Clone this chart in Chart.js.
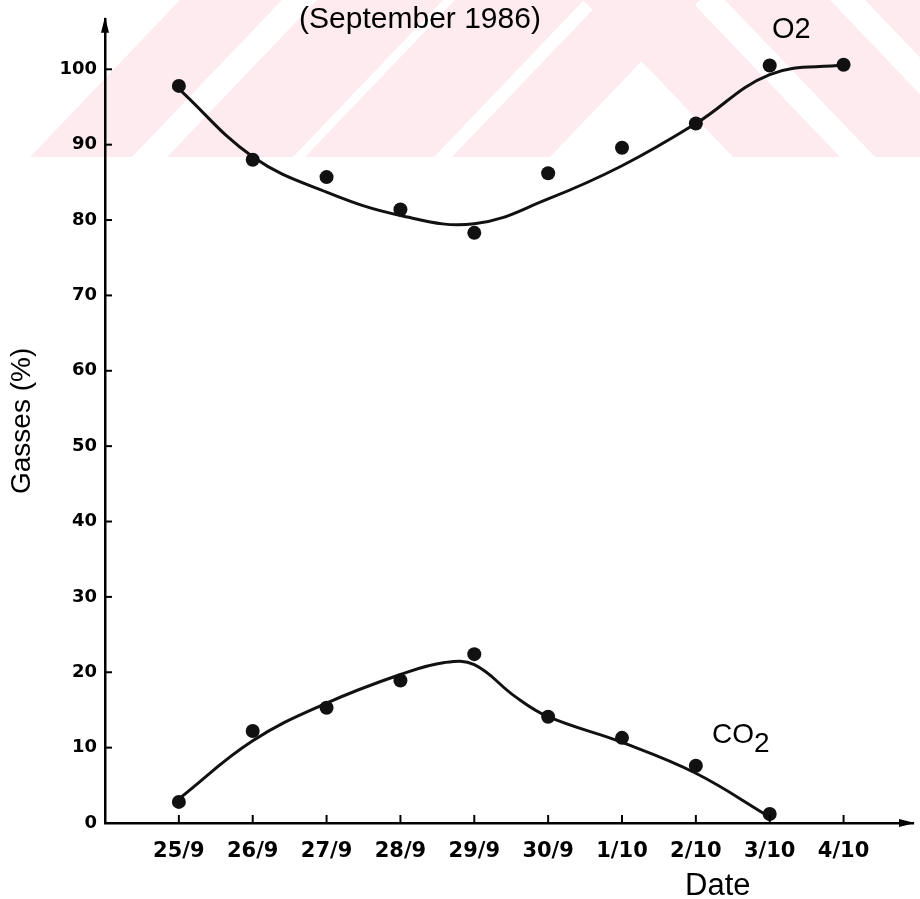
<!DOCTYPE html>
<html>
<head>
<meta charset="utf-8">
<script src="https://cdn.jsdelivr.net/npm/chart.js@4/dist/chart.umd.min.js"></script>
<style>
    html, body { margin: 0; padding: 0; background: #fff; }
    #gasChart { display: block; }
</style>
</head>
<body>
<canvas id="gasChart" width="920" height="899"></canvas>
<script>
const dates = ["25/9","26/9","27/9","28/9","29/9","30/9","1/10","2/10","3/10","4/10"];

// measured values, one per day
const o2Points = [97.8, 88.0, 85.7, 81.4, 78.3, 86.2, 89.6, 92.8, 100.5, 100.6];
const co2Points = [2.8, 12.2, 15.3, 18.9, 22.4, 14.1, 11.3, 7.6, 1.2];

// hand fitted curves (x = day index)
const o2CurveX = [0, 1, 2, 3, 4, 5, 6, 7, 8, 9];
const o2CurveY = [97.4, 88.4, 83.7, 80.6, 79.5, 82.8, 87.2, 92.8, 99.3, 100.6];
const co2CurveX = [0, 1, 2, 3, 3.6, 4, 4.55, 5, 6, 7, 8];
const co2CurveY = [3.2, 10.9, 15.9, 19.7, 21.3, 21.0, 16.8, 14.1, 10.7, 6.6, 0.8];

const yTicks = [0, 10, 20, 30, 40, 50, 60, 70, 80, 90, 100];

const toXY = (xs, ys) => ys.map((v, i) => ({ x: xs[i], y: v }));
const days = dates.map((d, i) => i);

// pale stamp behind the plot
const stamp = {
    id: "stamp",
    beforeDraw(chart) {
        const ctx = chart.ctx;
        const bands = [
            [30, 132, 150], [167, 293, 150], [305, 434, 150], [452, 550, 150],
            [733, 840, -150], [875, 980, -150], [1015, 1120, -150]
        ];
        ctx.save();
        ctx.fillStyle = "#fdebef";
        bands.forEach(([a, b, s]) => {
            ctx.beginPath();
            ctx.moveTo(a, 157);
            ctx.lineTo(b, 157);
            ctx.lineTo(b + s, 0);
            ctx.lineTo(a + s, 0);
            ctx.closePath();
            ctx.fill();
        });
        ctx.restore();
    }
};

// inner tick marks, arrow heads and the free text
const decorations = {
    id: "decorations",
    afterDraw(chart) {
        const ctx = chart.ctx;
        const x = chart.scales.x, y = chart.scales.y;
        const area = chart.chartArea;
        ctx.save();
        ctx.strokeStyle = "#000";
        ctx.fillStyle = "#000";
        ctx.lineWidth = 2;

        days.forEach(i => {
            const px = x.getPixelForValue(i);
            ctx.beginPath();
            ctx.moveTo(px, area.bottom);
            ctx.lineTo(px, area.bottom - 8);
            ctx.stroke();
        });
        yTicks.forEach(v => {
            const py = y.getPixelForValue(v);
            ctx.beginPath();
            ctx.moveTo(area.left, py);
            ctx.lineTo(area.left + 7, py);
            ctx.stroke();
        });

        // arrows
        ctx.beginPath();
        ctx.moveTo(area.left, area.top - 2);
        ctx.lineTo(area.left - 4, area.top + 14);
        ctx.lineTo(area.left + 4, area.top + 14);
        ctx.closePath();
        ctx.fill();
        ctx.beginPath();
        ctx.moveTo(area.right + 2, area.bottom);
        ctx.lineTo(area.right - 14, area.bottom - 4);
        ctx.lineTo(area.right - 14, area.bottom + 4);
        ctx.closePath();
        ctx.fill();

        ctx.textBaseline = "alphabetic";
        ctx.textAlign = "center";
        ctx.font = '30px "Liberation Sans", Arial, sans-serif';
        ctx.fillText("(September 1986)", 420, 28);

        ctx.textAlign = "left";
        ctx.font = '29px "Liberation Sans", Arial, sans-serif';
        ctx.fillText("O2", 772, 38);

        ctx.font = '28px "Liberation Sans", Arial, sans-serif';
        ctx.fillText("CO", 712, 743);
        ctx.fillText("2", 712 + ctx.measureText("CO").width, 752);

        ctx.font = '31px "Liberation Sans", Arial, sans-serif';
        ctx.fillText("Date", 685, 895);
        ctx.restore();
    }
};

new Chart(document.getElementById("gasChart"), {

    type: "scatter",

    data: {

        datasets: [
            // O2 curve
            {
                data: toXY(o2CurveX, o2CurveY),
                showLine: true,
                borderColor: "#111",
                borderWidth: 3,
                pointRadius: 0,
                tension: 0.4
            },
            // CO2 curve
            {
                data: toXY(co2CurveX, co2CurveY),
                showLine: true,
                borderColor: "#111",
                borderWidth: 3,
                pointRadius: 0,
                tension: 0.4
            },
            // O2 points
            {
                data: toXY(days, o2Points),
                pointRadius: 7,
                backgroundColor: "#111",
                borderWidth: 0
            },
            // CO2 points
            {
                data: toXY(days, co2Points),
                pointRadius: 7,
                backgroundColor: "#111",
                borderWidth: 0
            }
        ]

    },

    options: {

        responsive: false,
        animation: false,
        events: [],
        clip: false,

        layout: {
            padding: { top: 12, right: 2, left: 0, bottom: 0 }
        },

        plugins: {
            legend: { display: false },
            tooltip: { enabled: false }
        },

        scales: {

            x: {
                type: "linear",
                min: -1,
                max: 9.94,
                afterFit: s => { s.height = 76; },
                afterBuildTicks: s => { s.ticks = days.map(v => ({ value: v })); },
                grid: { display: false, drawTicks: false },
                border: { color: "#000", width: 2.5 },
                ticks: {
                    callback: v => dates[v],
                    color: "#000",
                    padding: 16,
                    maxRotation: 0,
                    autoSkip: false,
                    font: { family: "DejaVu Sans", size: 21, weight: "bold" }
                }
            },

            y: {
                min: 0,
                max: 106.7,
                afterFit: s => { s.width = 105; },
                afterBuildTicks: s => { s.ticks = yTicks.map(v => ({ value: v })); },
                grid: { display: false, drawTicks: false },
                border: { color: "#000", width: 2.5 },
                ticks: {
                    color: "#000",
                    padding: 8,
                    font: { family: "DejaVu Sans", size: 18, weight: "bold" }
                },
                title: {
                    display: true,
                    text: "Gasses (%)",
                    color: "#000",
                    padding: { top: 5, bottom: 0 },
                    font: { family: "Liberation Sans", size: 28 }
                }
            }

        }

    },

    plugins: [stamp, decorations]

});
</script>
</body>
</html>
